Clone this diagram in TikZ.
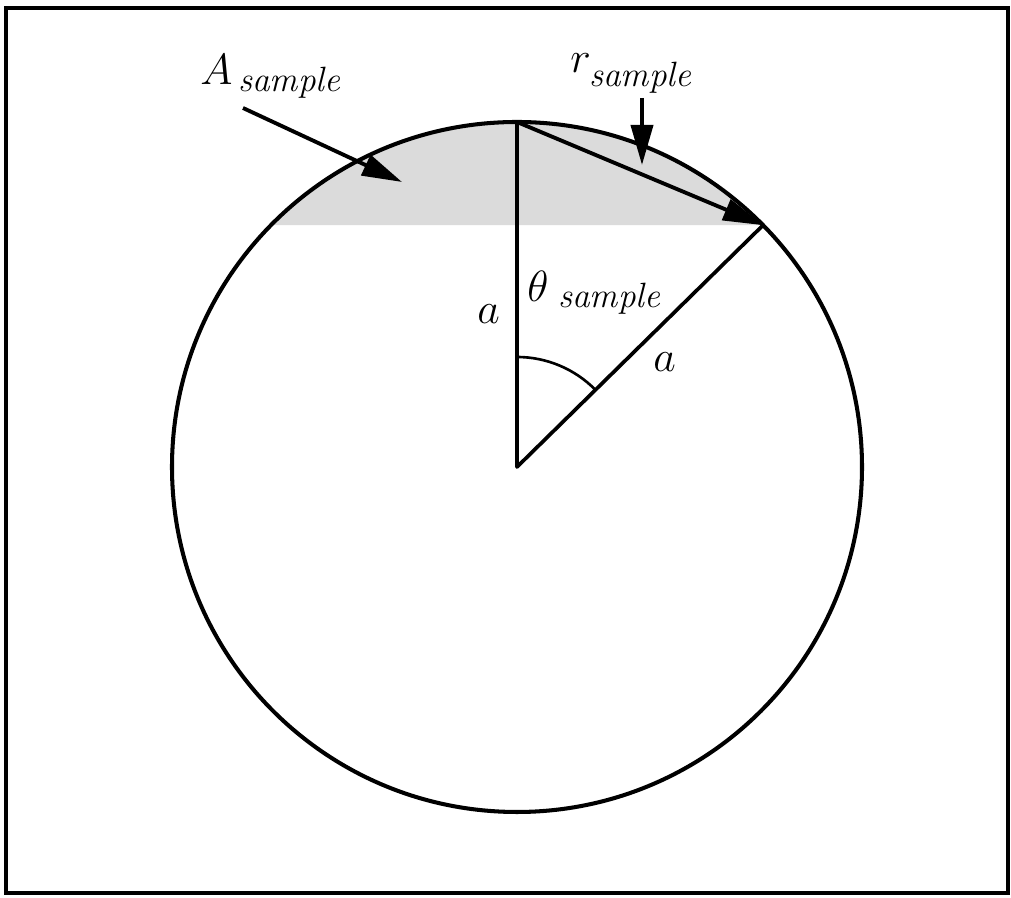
\documentclass[tikz,border=0pt]{standalone}
\usetikzlibrary{arrows.meta,calc}
\begin{document}
\begin{tikzpicture}[
  big/.style={font=\fontsize{28}{32}\selectfont, inner sep=0pt, anchor=base west},
  sub/.style={font=\fontsize{20}{24}\selectfont\itshape, inner sep=0pt, anchor=base west},
  line/.style={line width=2.1pt},
  bigarrow/.style={line width=2.2pt, -{Triangle[length=0.8cm,width=0.44cm]}},
]
\useasboundingbox (0,0) rectangle (20.22,17.96);
\draw[line width=1.8pt] (0.12,0.10) rectangle (20.16,17.80);
\coordinate (O) at (10.34,8.62);
\coordinate (T) at ($(O)+(90:6.9)$);
\coordinate (P) at ($(O)+(44.5:6.9)$);
% shaded segment
\fill[gray!28] (P) arc[start angle=44.5, end angle=135.5, radius=6.9cm] -- cycle;
\draw[line width=2.3pt] (O) circle[radius=6.9cm];
\draw[line, line join=round] (T) -- (O) -- (P);
\draw[line width=1.5pt] ($(O)+(90:2.2)$) arc[start angle=90, end angle=44.5, radius=2.2cm];
\draw[bigarrow] (T) -- (P);
% labels
\node[big] (Asym) at (4.0,16.26) {$A$};
\node[sub] (Asub) at (4.76,16.12) {sample};
\node[big] (rsym) at (11.40,16.50) {$r$};
\node[sub] (rsub) at (11.78,16.22) {sample};
\node[big] (thsym) at (10.54,11.92) {$\theta$};
\node[sub] (thsub) at (11.16,11.80) {sample};
\node[big] (aleft) at (9.54,11.48) {$a$};
\node[big] (aright) at (13.06,10.52) {$a$};
% arrows
\coordinate (As) at (4.86,15.80);
\coordinate (Ae) at (8.04,14.32);
\draw[bigarrow] (As) -- (Ae);
\coordinate (rs) at (12.84,16.0);
\coordinate (re) at (12.84,14.66);
\draw[bigarrow] (rs) -- (re);
\end{tikzpicture}
\end{document}
